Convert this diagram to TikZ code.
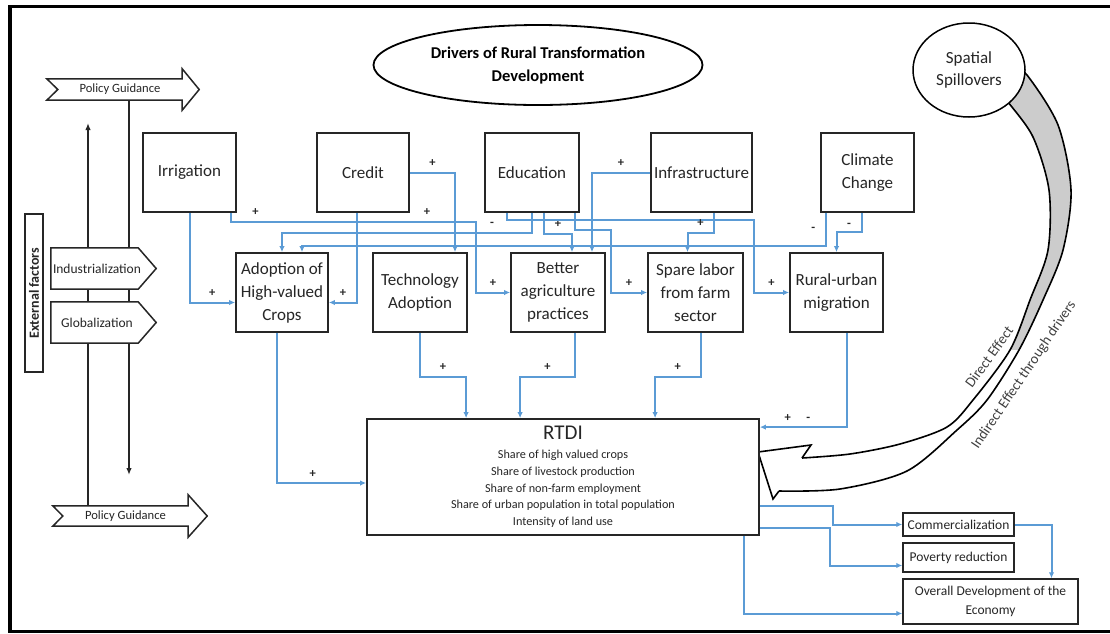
\documentclass[tikz,border=0pt]{standalone}
\usepackage{fontspec}
\setmainfont{Carlito}
\usetikzlibrary{positioning, arrows.meta, calc, shapes.geometric, backgrounds}
\definecolor{linkblue}{RGB}{91,155,213}

\begin{document}
\begin{tikzpicture}[
    x=1pt, y=-1pt,
    % --- STYLES ---
    box/.style={
            draw=black!85,
            line width=1.8pt,
            fill=white,
            align=center,
            inner sep=0pt,
            text=black!85,
            font=\fontsize{17}{23}\selectfont
        },
    driver/.style={box, minimum width=93, minimum height=79},
    outcome/.style={
            box,
            line width=1.5pt,
            font=\fontsize{13.5}{19}\selectfont
        },
    tag/.style={
            inner sep=0pt,
            align=center,
            text=black!85,
            font=\fontsize{13.5}{16}\selectfont
        },
    tagline/.style={draw=black!85, line width=1.5pt, fill=white},
    flow/.style={
            -{Latex[length=6pt, width=5.5pt]},
            draw=linkblue,
            line width=2pt
        },
    sgn/.style={
            font=\fontsize{12.5}{12.5}\selectfont\bfseries,
            text=black!85,
            inner sep=2pt
        },
    ext/.style={
            -{Latex[length=7pt, width=5.5pt]},
            line width=1.6pt,
            draw=black!85
        },
    effect/.style={
            font=\fontsize{14.5}{15}\selectfont,
            text=black!75,
            inner sep=0pt
        }
    ]
    \useasboundingbox (0,0) rectangle (1110,633);

    % --- TITLE & SPILLOVERS ---
    \node[draw=black, line width=1.8pt, ellipse, minimum width=329, minimum height=80, align=center,
        font=\fontsize{16.5}{23}\selectfont\bfseries] (title) at (538,65) {Drivers of Rural Transformation\\Development};
    \node[draw=black, line width=1.5pt, fill=white, ellipse, minimum width=112, minimum height=94, align=center,
        font=\fontsize{17}{22}\selectfont, text=black!85] (spill) at (969,70) {Spatial\\Spillovers};

    % --- DRIVERS ---
    \node[driver] (irr) at (189.5,172.5) {Irrigation};
    \node[driver, minimum width=92] (cred) at (363,172.5) {Credit};
    \node[driver, minimum width=94] (edu) at (532,172.5) {Education};
    \node[driver, minimum width=101] (infra) at (701.5,172.5) {Infrastructure};
    \node[driver] (clim) at (867.5,172.5) {Climate\\Change};

    % --- PATHWAYS ---
    \node[driver, minimum width=92] (adopt) at (282,292.5) {Adoption of\\High-valued\\Crops};
    \node[driver, minimum width=94] (tech) at (420,292.5) {Technology\\Adoption};
    \node[driver, minimum width=94] (better) at (558,292.5) {Better\\agriculture\\practices};
    \node[driver, minimum width=95] (spare) at (695.5,292.5) {Spare labor\\from farm\\sector};
    \node[driver] (rural) at (836.5,292.5) {Rural-urban\\migration};

    % --- RTDI & OUTCOMES ---
    \node[box, minimum width=392, minimum height=116, font=\fontsize{12.2}{16.8}\selectfont] (rtdi) at (563,477)
    {{\fontsize{21}{25}\selectfont RTDI}\\[2pt]
        Share of high valued crops\\
        Share of livestock production\\
        Share of non-farm employment\\
        Share of urban population in total population\\
        Intensity of land use};
    \node[outcome, minimum width=111, minimum height=23] (comm) at (958.5,524.5) {Commercialization};
    \node[outcome, minimum width=111, minimum height=29] (pov) at (958.5,557.5) {Poverty reduction};
    \node[outcome, minimum width=175, minimum height=45] (overall) at (990.5,601.5) {Overall Development of the\\Economy};

    % --- EXTERNAL FACTORS ---
    \node[tag, minimum width=124, minimum height=21, font=\fontsize{12.6}{14}\selectfont] (pgtop) at (120,89.5) {Policy Guidance};
    \node[tag, minimum width=125, minimum height=20, font=\fontsize{12.6}{14}\selectfont] (pgbot) at (125.5,516) {Policy Guidance};
    \node[tag, minimum width=92, minimum height=41] (ind) at (97,268.5) {Industrialization};
    \node[tag, minimum width=92, minimum height=41] (glob) at (97,322.5) {Globalization};
    \node[draw=black!85, line width=1.3pt, rotate=90, minimum width=158, minimum height=18, inner sep=0pt,
        font=\fontsize{14}{14}\selectfont\bfseries, text=black!85] (extf) at (34,293) {External factors};
    \coordinate (upend) at (88,123);
    \coordinate (downend) at (129,475);

    % --- EFFECT LABELS ---
    \node[effect, rotate=54] (direct) at (989,357) {Direct Effect};
    \node[effect, rotate=56] (indirect) at (1024,375) {Indirect Effect through drivers};

    \begin{scope}[on background layer]
        % frame
        \draw[line width=3.2pt] (1110,6.7) -- (10,6.7) -- (10,631.5) -- (1110,631.5);

        % policy lines
        \draw[ext] (pgbot.north -| upend) -- (upend);
        \draw[ext] (pgtop.south -| downend) -- (downend);

        % tag outlines
        \draw[tagline] ($(pgtop.north west)+(-11,0)$) -- (pgtop.north east) -- ++(0,-10)
        -- ($(pgtop.east)+(17,0)$) -- ($(pgtop.south east)+(0,10)$) -- (pgtop.south east)
        -- ($(pgtop.south west)+(-11,0)$) -- (pgtop.west) -- cycle;
        \draw[tagline] ($(pgbot.north west)+(-10,0)$) -- (pgbot.north east) -- ++(0,-11)
        -- ($(pgbot.east)+(19,0)$) -- ($(pgbot.south east)+(0,11)$) -- (pgbot.south east)
        -- ($(pgbot.south west)+(-10,0)$) -- (pgbot.west) -- cycle;
        \draw[tagline] (ind.north west) -- ($(ind.north east)+(-5,0)$) -- ($(ind.east)+(13,0)$)
        -- ($(ind.south east)+(-5,0)$) -- (ind.south west) -- cycle;
        \draw[tagline] (glob.north west) -- ($(glob.north east)+(-5,0)$) -- ($(glob.east)+(13,0)$)
        -- ($(glob.south east)+(-5,0)$) -- (glob.south west) -- cycle;

        % spillover ribbon
        \fill[gray!40] plot[smooth] coordinates {(1015,70) (1027,75) (1058,125) (1071,190) (1063,250) (1043,300) (1019,350)}
        -- plot[smooth] coordinates {(1010,350) (1030,300) (1048,250) (1049,190) (1033,137) (1008,102) (1000,92)} -- cycle;
        \fill[white] plot[smooth] coordinates {(1010,350) (973,400) (947,427) (900,444) (850,454) (802,458)}
        -- (811,445) -- (758,452) -- (773,499) -- (779,491)
        -- plot[smooth] coordinates {(779,491) (840,489) (907,471) (957,430) (987,400) (1019,350)} -- cycle;
        \draw[line width=1.6pt] plot[smooth] coordinates {(1015,70) (1027,75) (1058,125) (1071,190) (1063,250) (1043,300)
                (1019,350) (987,400) (957,430) (907,471) (840,489) (779,491)};
        \draw[line width=1.6pt] plot[smooth] coordinates {(1000,92) (1008,102) (1033,137) (1049,190) (1048,250) (1030,300)
                (1010,350) (973,400) (947,427) (900,444) (850,454) (802,458)};
        \draw[line width=1.6pt, line join=miter] (802,458) -- (811,445) -- (758,452) -- (773,499) -- (779,491);
    \end{scope}

    % --- DRIVER LINKS ---
    % Irrigation
    \draw[flow] (irr.south) |- ($(adopt.west)+(0,10)$)
    node[sgn, pos=0.75, above=3pt] {+};
    \draw[flow] ($(irr.south east)+(-6,0)$) -- ++(0,9)
    -| ($(better.west)+(-34,0)$)
    node[sgn, pos=0.05, above=3pt] {+}
    node[sgn, pos=0.4, above=3pt] {+}
    -- (better.west) node[sgn, midway, above=3pt] {+};

    % Credit
    \draw[flow] ($(cred.south)+(-6,0)$) |- ($(adopt.east)+(0,10)$)
    node[sgn, pos=0.75, above=3pt] {+};
    \draw[flow] (cred.east) -| ($(tech.north)+(35,0)$)
    node[sgn, pos=0.25, above=3pt] {+};

    % Education
    \draw[flow] (edu.south) -- ++(0,20) -| (adopt.north)
    node[sgn, pos=0.08, above=3pt] {-};
    \draw[flow] ($(edu.south)+(12,0)$) -- ++(0,21) -| ($(better.north)+(14,0)$)
    node[sgn, pos=0.25, above=3pt] {+};
    \draw[flow] ($(edu.south east)+(-5,0)$) -- ++(0,17) -| ($(spare.west)+(-36,0)$)
    -- (spare.west) node[sgn, midway, above=3pt] {+};
    \draw[flow] ($(edu.south west)+(23,0)$) -- ++(0,7) -| ($(rural.west)+(-35,0)$)
    -- (rural.west) node[sgn, midway, above=3pt] {+};

    % Infrastructure
    \draw[flow] (infra.west) -| ($(better.north)+(34,0)$)
    node[sgn, pos=0.25, above=3pt] {+};
    \draw[flow] ($(infra.south)+(12,0)$) -- ++(0,20) -| ($(spare.north)+(-8,0)$)
    node[sgn, pos=0.25, above=3pt] {+};

    % Climate change
    \draw[flow] ($(clim.south west)+(6,0)$) -- ++(0,33)
    node[sgn, midway, left=8pt] {-}
    -| ($(adopt.north)+(20,0)$);
    \draw[flow] ($(clim.south)+(-6,0)$) -- ++(0,19) -| (rural.north)
    node[sgn, pos=0.25, above=1pt] {-};

    % --- PATHWAYS TO RTDI ---
    \draw[flow] ($(adopt.south)+(-5,0)$) |- ($(rtdi.west)+(0,6)$)
    node[sgn, pos=0.7, above=3pt] {+};
    \draw[flow] (tech.south) -- ++(0,44) -| ($(rtdi.north west)+(100,0)$)
    node[sgn, pos=0.25, above=3pt] {+};
    \draw[flow] ($(better.south)+(17,0)$) -- ++(0,44) -| ($(rtdi.north west)+(154,0)$)
    node[sgn, pos=0.25, above=3pt] {+};
    \draw[flow] ($(spare.south)+(5,0)$) -- ++(0,44) -| ($(rtdi.north west)+(289,0)$)
    node[sgn, pos=0.25, above=3pt] {+};
    \draw[flow] ($(rural.south)+(10,0)$) |- ($(rtdi.north east)+(0,9)$)
    node[sgn, pos=0.84, above=3pt] {+}
    node[sgn, pos=0.72, above=3pt] {-};

    % --- RTDI TO OUTCOMES ---
    \draw[flow] ($(rtdi.east)+(0,29)$) -- ++(73,0) |- (comm.west);
    \draw[flow] ($(rtdi.east)+(0,51)$) -- ++(70,0) |- ($(pov.west)+(0,8)$);
    \draw[flow] ($(rtdi.south east)+(-16,0)$) |- ($(overall.west)+(0,12)$);
    \draw[flow] (comm.east) -| ($(overall.north)+(61,0)$);

\end{tikzpicture}
\end{document}
